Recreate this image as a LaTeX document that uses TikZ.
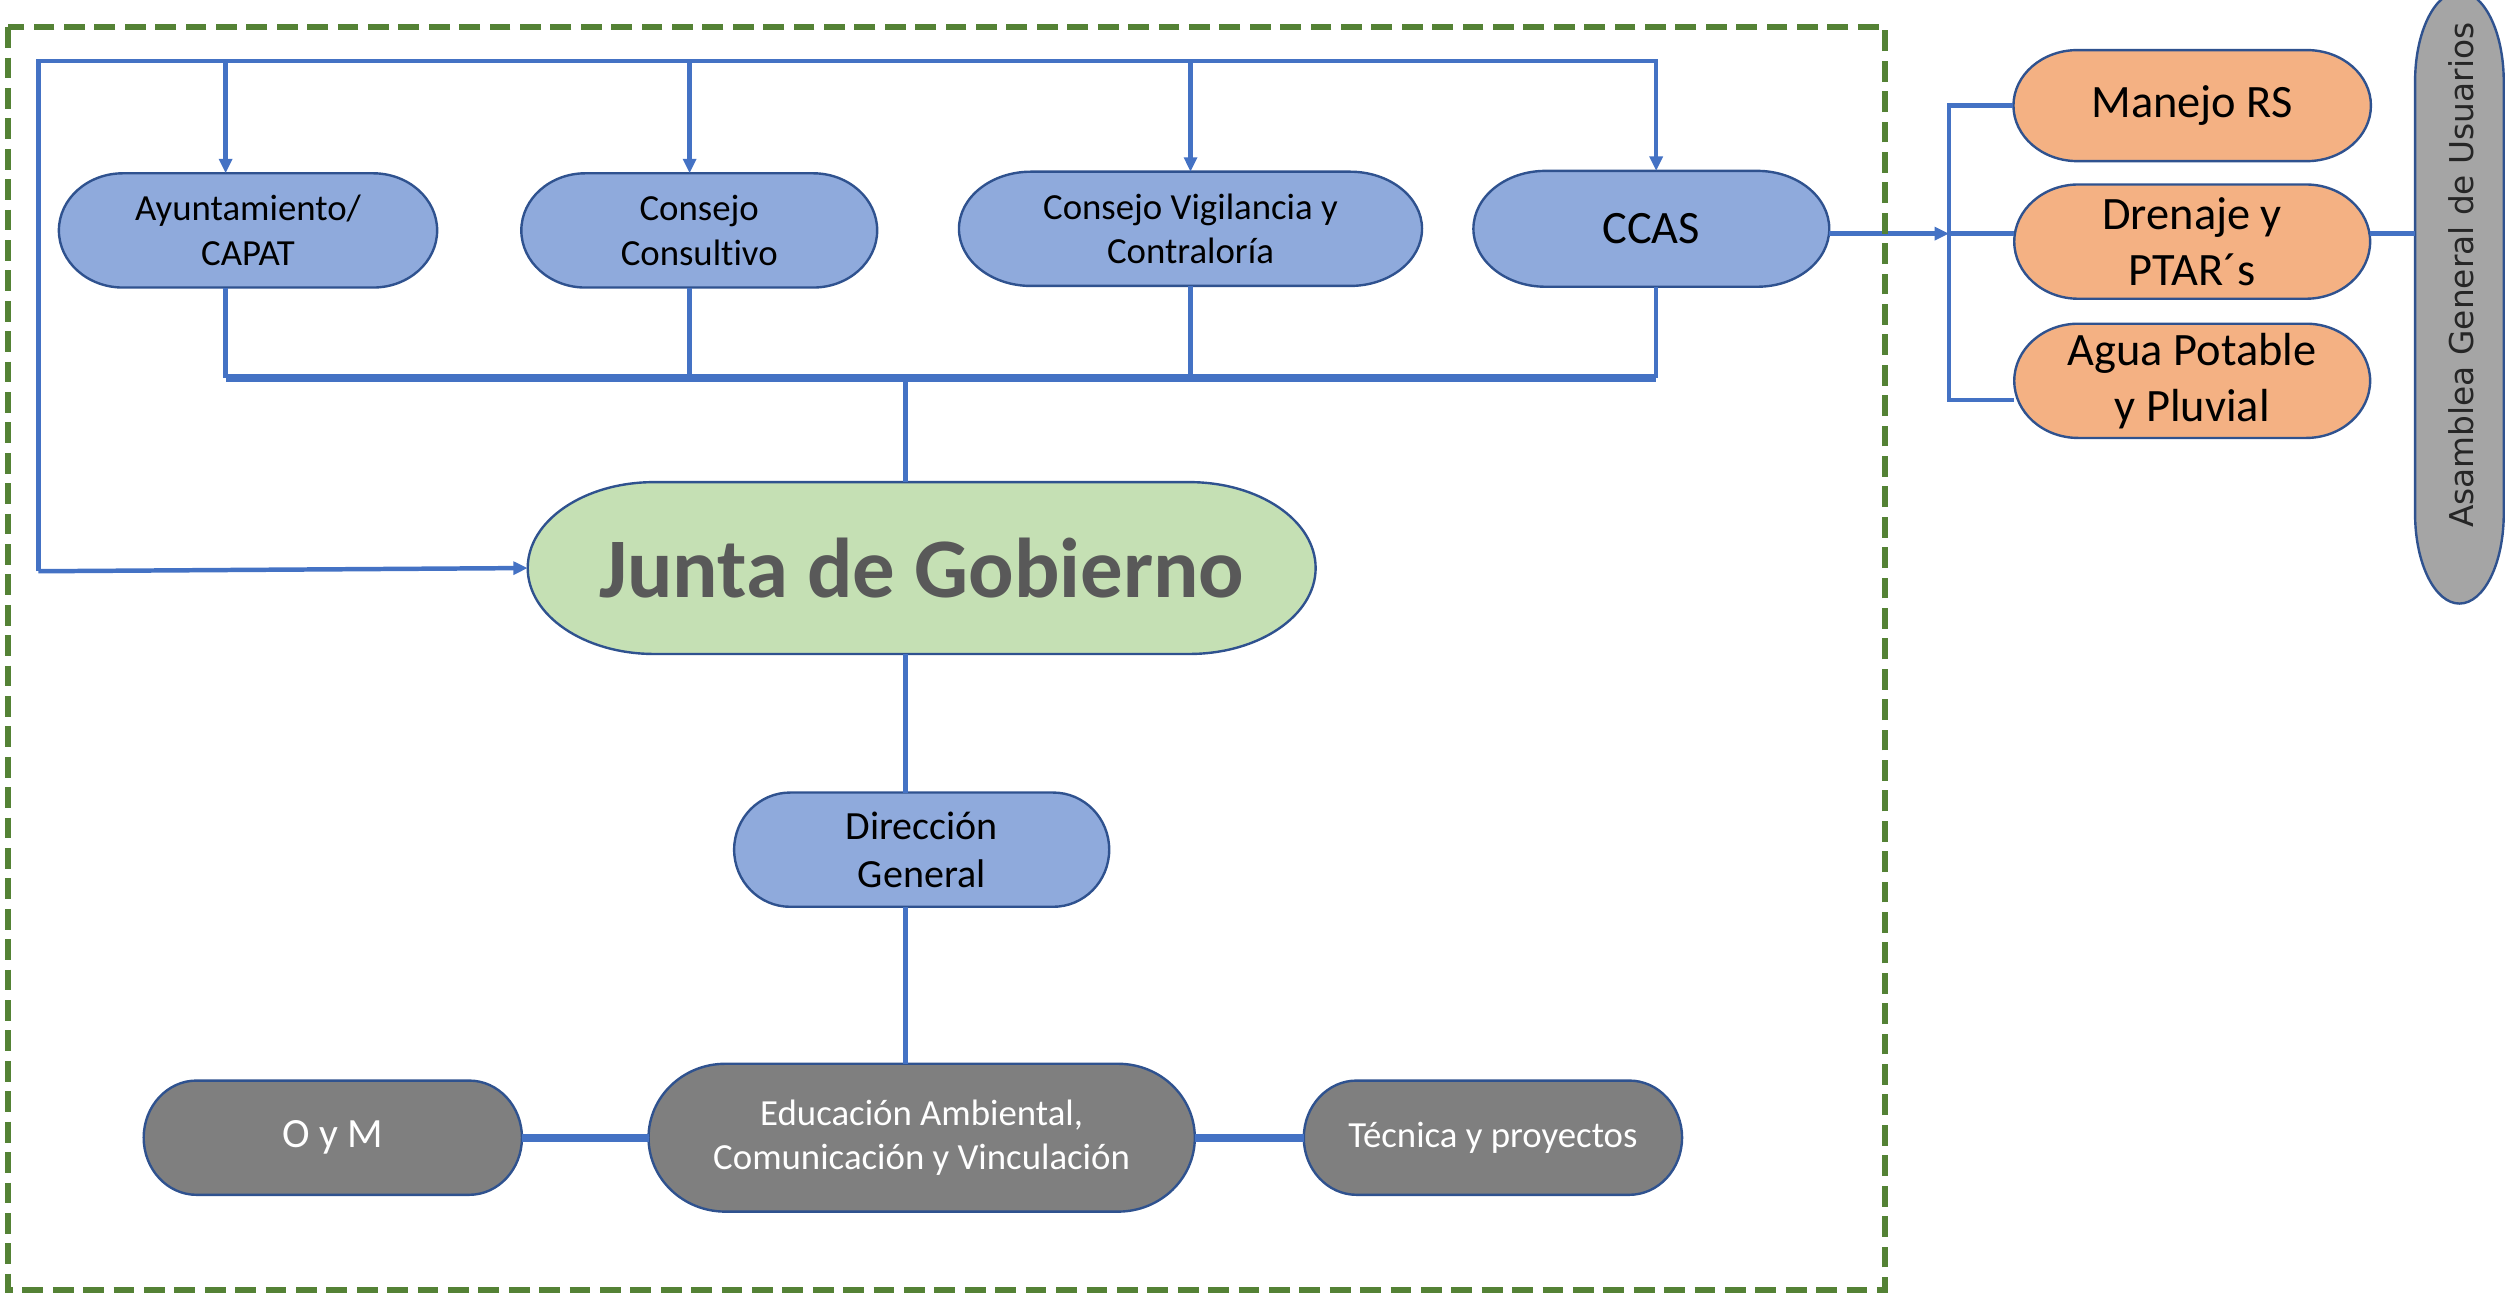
\documentclass[tikz,border=0pt]{standalone}
\usepackage{fontspec}
\setmainfont{Carlito}[Ligatures=NoCommon]
\newfontfamily\asfont{DejaVu Sans}
\usetikzlibrary{arrows.meta,backgrounds,calc}
\definecolor{bline}{HTML}{4472C4}
\definecolor{bedge}{HTML}{2F528F}
\definecolor{bfill}{HTML}{8FAADC}
\definecolor{gfill}{HTML}{C5E0B4}
\definecolor{dfill}{HTML}{7F7F7F}
\definecolor{ofill}{HTML}{F4B183}
\definecolor{afill}{HTML}{A5A5A5}
\definecolor{frame}{HTML}{548235}
\definecolor{jtext}{HTML}{595959}
% outline of a node with elliptic ends: name, x radius of the ends, fill
\newcommand\termshape[3]{%
  \path [draw=bedge, line width=1.5pt, fill=#3]
    let \p1=(#1.north east), \p2=(#1.south west), \n1={(\y1-\y2)/2} in
    (\x2+#2pt,\y1) -- (\x1-#2pt,\y1)
    arc[start angle=90, end angle=-90, x radius=#2pt, y radius=\n1]
    -- (\x2+#2pt,\y2)
    arc[start angle=270, end angle=90, x radius=#2pt, y radius=\n1] -- cycle;}
\begin{document}
\begin{tikzpicture}[x=1pt, y=-1pt, >={Triangle[length=9pt,width=8pt]},
  box/.style={inner sep=0pt, align=center, minimum width=#1, minimum height=71pt},
  graybox/.style={box=#1, text=white},
  orbox/.style={box=#1, font=\fontsize{29}{35}\selectfont},
  conn/.style={draw=bline, line width=2.8pt},
  bus/.style={draw=bline, line width=5pt}]
\useasboundingbox (0,0) rectangle (1568,810);
% top row
\node [box=236pt, font=\fontsize{23}{28}\selectfont] (ay) at (155,144) {Ayuntamiento/\\CAPAT};
\node [box=222pt, font=\fontsize{23}{28}\selectfont] (cc) at (437,144) {Consejo\\Consultivo};
\node [box=289pt, font=\fontsize{23}{28}\selectfont] (cv) at (744,143) {Consejo Vigilancia y\\Contraloría};
\node [box=222pt, minimum height=72pt, font=\fontsize{29}{35}\selectfont] (ccas) at (1032,143) {CCAS};
% centre column
\node [box=492pt, minimum height=107pt, text=jtext,
  font=\bfseries\fontsize{53}{60}\selectfont] (jg) at (576,355) {Junta de Gobierno};
\node [box=234pt, font=\fontsize{25}{30}\selectfont] (dg) at (576,531) {Dirección\\General};
\node [graybox=341pt, minimum height=92pt, font=\fontsize{23}{28}\selectfont] (ea) at (576,711)
  {Educación Ambiental,\\Comunicación y Vinculación};
\node [graybox=236pt, font=\fontsize{26}{30}\selectfont] (om) at (208,711) {O y M};
\node [graybox=236pt, font=\fontsize{23}{28}\selectfont] (tp) at (933,711) {Técnica y proyectos};
% right side
\node [orbox=223pt, minimum height=69pt] (mr) at (1370,66) {Manejo RS};
\node [orbox=222pt] (dp) at (1370,151) {Drenaje y\\PTAR´s};
\node [orbox=222pt] (ap) at (1370,238) {Agua Potable\\y Pluvial};
\node [minimum width=55pt, minimum height=382pt, inner sep=0pt] (as) at (1537,186) {};
\node [rotate=90, text=black!85, font=\asfont\fontsize{20.5}{24}\selectfont] (astext) at (1538,172)
  {Asamblea General de Usuarios};
\begin{scope}[on background layer]
\foreach \nm/\rx/\col in {ay/40/bfill, cc/40/bfill, cv/45/bfill, ccas/45/bfill, jg/79/gfill,
  dg/35/bfill, ea/48/dfill, om/33/dfill, tp/33/dfill, mr/40/ofill, dp/40/ofill, ap/40/ofill}
  {\termshape{\nm}{\rx}{\col}}
\path [draw=bedge, line width=1.5pt, fill=afill]
  let \p1=(as.north east), \p2=(as.south west), \n1={(\x1-\x2)/2} in
  (\x1,\y1-56pt) -- (\x1,\y2+56pt)
  arc[start angle=0, end angle=-180, x radius=\n1, y radius=56pt]
  -- (\x2,\y1-56pt)
  arc[start angle=180, end angle=0, x radius=\n1, y radius=56pt] -- cycle;
\end{scope}
% connectors
\coordinate (tl) at (24,38);
\coordinate (bl) at (24,357);
\coordinate (lb) at (566,236);
\coordinate (br) at (1218,146);
\coordinate (ayn) at ([xshift=-14pt]ay.north);
\coordinate (ays) at ([xshift=-14pt]ay.south);
\coordinate (ccn) at ([xshift=-6pt]cc.north);
\coordinate (ccs) at ([xshift=-6pt]cc.south);
\coordinate (csn) at ([xshift=3pt]ccas.north);
\coordinate (css) at ([xshift=3pt]ccas.south);
\coordinate (apw) at ([yshift=-12pt]ap.west);
\draw [conn, ->] (bl) -- (tl) -| (csn);
\draw [conn, ->] (tl -| ayn) -- (ayn);
\draw [conn, ->] (tl -| ccn) -- (ccn);
\draw [conn, ->] (tl -| cv.north) -- (cv.north);
\draw [conn, ->] (bl) -- (jg.west);
\draw [conn] (ays) -- (lb -| ays);
\draw [conn] (ccs) -- (lb -| ccs);
\draw [conn] (cv.south) -- (lb -| cv.south);
\draw [conn] (css) -- (lb -| css);
\draw [bus] (lb -| ays) -- (lb -| css);
\draw [conn] (lb) -- (jg.north -| lb);
\draw [conn] (jg.south -| lb) -- (dg.north -| lb);
\draw [conn] (dg.south -| lb) -- (ea.north -| lb);
\draw [bus] (om.east) -- (ea.west);
\draw [bus] (ea.east) -- (tp.west);
\draw [conn, ->] (ccas.east |- br) -- (br);
\draw [conn] (mr.west) -- (mr.west -| br) -- (apw -| br) -- (apw);
\draw [conn] (br) -- (br -| dp.west);
\draw [conn] (dp.east |- br) -- (br -| as.west);
\draw [frame, line width=4pt, dash pattern=on 13pt off 6pt] (5,17) rectangle (1178,806);
\end{tikzpicture}
\end{document}
